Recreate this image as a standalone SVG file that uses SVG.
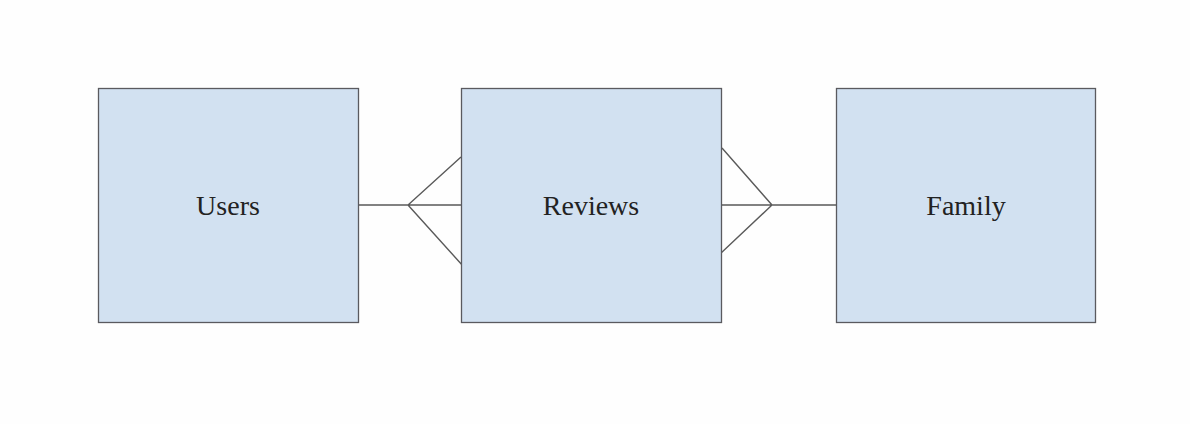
<svg xmlns="http://www.w3.org/2000/svg" width="1190" height="424" viewBox="0 0 1190 424">
<style>
.box{fill:#d2e1f1;stroke:#5a5a5f;stroke-width:1.3}
.lbl{font-family:"Liberation Serif",serif;font-size:28px;fill:#222;text-anchor:middle}
.conn{fill:none;stroke:#5a5a5a;stroke-width:1.4}
</style>
<rect width="1190" height="424" fill="#fefefe"/>
<g id="connectors">
<path class="conn" d="M358 205H461M461 157L408 205L463 266"/>
<path class="conn" d="M721 205H836M722 148L772 205L720 254"/>
</g>
<g id="users"><rect class="box" x="98.5" y="88.5" width="260" height="234"/><text class="lbl" x="228" y="215">Users</text></g>
<g id="reviews"><rect class="box" x="461.5" y="88.5" width="260" height="234"/><text class="lbl" x="591" y="215">Reviews</text></g>
<g id="family"><rect class="box" x="836.5" y="88.5" width="259" height="234"/><text class="lbl" x="966" y="215">Family</text></g>
</svg>
